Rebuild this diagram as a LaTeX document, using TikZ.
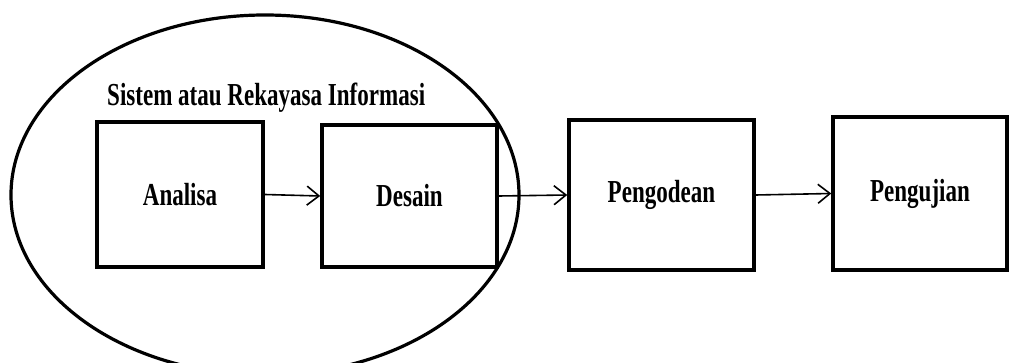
\documentclass[tikz,border=0pt]{standalone}
\usepackage{fontspec}
\newfontfamily\labfont[FakeStretch=0.72]{Liberation Serif}
\usetikzlibrary{arrows.meta,shapes.geometric}
\begin{document}
\begin{tikzpicture}[x=1pt,y=-1pt,
  stagebox/.style={draw, line width=3.5pt, minimum width=#1, inner sep=0pt, font=\labfont\bfseries\fontsize{32}{36}\selectfont},
  flow/.style={line width=1.6pt, -{Straight Barb[length=12pt,width=19pt,line width=1.6pt]}},
  txt/.style={font=\labfont\bfseries\fontsize{32}{36}\selectfont, inner sep=0pt}]
\useasboundingbox (0,0) rectangle (1013,363);
\clip (0,0) rectangle (1013,363);
\node[stagebox=166pt, minimum height=145pt] (analisa) at (180,194.5) {Analisa};
\node[stagebox=175pt, minimum height=142pt] (desain) at (409.5,196) {Desain};
\node[stagebox=185pt, minimum height=150pt] (peng) at (661.5,195) {Pengodean};
\node[stagebox=174pt, minimum height=153pt] (uji) at (920,193.5) {Pengujian};
\node[draw, ellipse, line width=3.2pt, minimum width=508pt, minimum height=360pt, inner sep=0pt] (sys) at (265,195) {};
\node[txt, anchor=base west] (title) at (107,106) {Sistem atau Rekayasa Informasi};
\draw[flow] (analisa.east) -- (desain.west);
\draw[flow] (desain.east) -- (peng.west);
\draw[flow] (peng.east) -- (uji.west);
\end{tikzpicture}
\end{document}
